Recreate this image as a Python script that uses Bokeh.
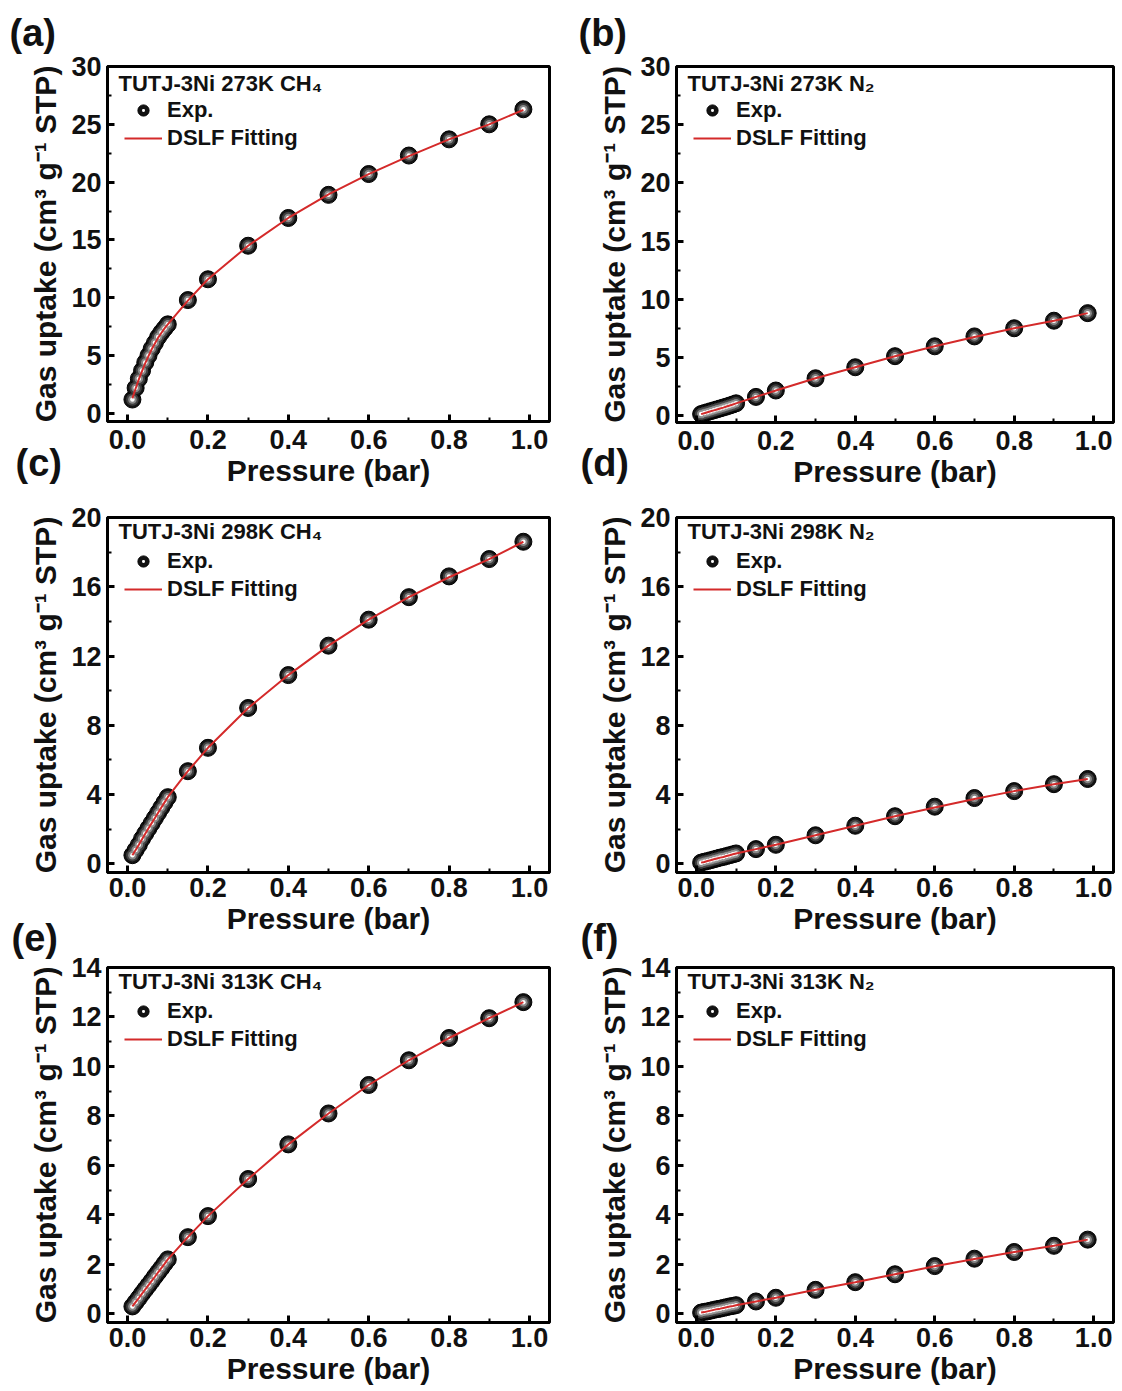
from bokeh.plotting import figure
from bokeh.layouts import column, row
from bokeh.models import FixedTicker, NumeralTickFormatter, Legend, LegendItem, Label, Title
from bokeh.embed import file_html
from bokeh.resources import INLINE

# Pressure points (bar): dense low-pressure region, then coarse steps up to ~1 bar
pressure_low = [0.012, 0.02, 0.028, 0.036, 0.044, 0.052, 0.06, 0.068, 0.076, 0.084, 0.092, 0.1]
pressure_high = [0.15, 0.2, 0.3, 0.4, 0.5, 0.6, 0.7, 0.8, 0.9, 0.985]
pressure = pressure_low + pressure_high

# Experimental uptake (cm3 g-1 STP)
ch4_273_exp = [1.2, 2.2, 3.0, 3.7, 4.4, 5.0, 5.6, 6.1, 6.6, 7.0, 7.35, 7.7,
               9.8, 11.6, 14.5, 16.9, 18.9, 20.7, 22.3, 23.7, 25.0, 26.3]
n2_273_exp = [0.12, 0.21, 0.29, 0.37, 0.45, 0.53, 0.61, 0.69, 0.77, 0.86, 0.95, 1.05,
              1.6, 2.15, 3.2, 4.15, 5.1, 5.95, 6.8, 7.5, 8.15, 8.8]
ch4_298_exp = [0.5, 0.8, 1.1, 1.45, 1.75, 2.05, 2.35, 2.65, 2.95, 3.25, 3.55, 3.85,
               5.35, 6.7, 9.0, 10.9, 12.6, 14.1, 15.4, 16.6, 17.6, 18.6]
n2_298_exp = [0.07, 0.12, 0.16, 0.21, 0.26, 0.31, 0.36, 0.40, 0.45, 0.50, 0.55, 0.60,
              0.85, 1.1, 1.65, 2.2, 2.75, 3.3, 3.8, 4.2, 4.6, 4.9]
ch4_313_exp = [0.3, 0.47, 0.64, 0.82, 0.99, 1.16, 1.33, 1.51, 1.68, 1.85, 2.03, 2.2,
               3.1, 3.95, 5.45, 6.85, 8.1, 9.25, 10.25, 11.15, 11.95, 12.6]
n2_313_exp = [0.05, 0.08, 0.1, 0.13, 0.16, 0.19, 0.21, 0.24, 0.27, 0.3, 0.32, 0.35,
              0.5, 0.65, 0.97, 1.28, 1.6, 1.93, 2.23, 2.5, 2.75, 3.0]

# DSLF fitted curves at the same pressures
ch4_273_fit = [1.3, 2.15, 2.95, 3.65, 4.35, 4.95, 5.55, 6.05, 6.55, 6.95, 7.35, 7.7,
               9.75, 11.6, 14.5, 16.9, 18.95, 20.7, 22.25, 23.7, 25.0, 26.25]
n2_273_fit = [0.12, 0.2, 0.28, 0.36, 0.44, 0.52, 0.6, 0.68, 0.77, 0.86, 0.95, 1.04,
              1.6, 2.15, 3.2, 4.15, 5.1, 5.95, 6.75, 7.5, 8.15, 8.8]
ch4_298_fit = [0.5, 0.8, 1.1, 1.42, 1.74, 2.05, 2.35, 2.65, 2.95, 3.25, 3.55, 3.85,
               5.35, 6.7, 9.0, 10.9, 12.6, 14.1, 15.4, 16.55, 17.6, 18.6]
n2_298_fit = [0.07, 0.11, 0.16, 0.21, 0.26, 0.31, 0.36, 0.40, 0.45, 0.50, 0.55, 0.60,
              0.85, 1.1, 1.65, 2.2, 2.75, 3.25, 3.75, 4.2, 4.6, 4.9]
ch4_313_fit = [0.3, 0.47, 0.64, 0.82, 0.99, 1.16, 1.33, 1.5, 1.68, 1.85, 2.02, 2.2,
               3.1, 3.95, 5.45, 6.85, 8.1, 9.25, 10.25, 11.15, 11.95, 12.6]
n2_313_fit = [0.05, 0.07, 0.1, 0.13, 0.16, 0.19, 0.21, 0.24, 0.27, 0.3, 0.32, 0.35,
              0.5, 0.65, 0.97, 1.28, 1.6, 1.92, 2.22, 2.5, 2.75, 3.0]

x_ticks = [0.0, 0.2, 0.4, 0.6, 0.8, 1.0]
x_minor = [0.1, 0.3, 0.5, 0.7, 0.9]
X_RANGE = (-0.05, 1.05)

panels = [
    dict(tag="(a)", title="TUTJ-3Ni 273K CH\u2084", exp=ch4_273_exp, fit=ch4_273_fit,
         y_ticks=[0, 5, 10, 15, 20, 25, 30], y_minor=[2.5, 7.5, 12.5, 17.5, 22.5, 27.5], y_start=-0.7),
    dict(tag="(b)", title="TUTJ-3Ni 273K N\u2082", exp=n2_273_exp, fit=n2_273_fit,
         y_ticks=[0, 5, 10, 15, 20, 25, 30], y_minor=[2.5, 7.5, 12.5, 17.5, 22.5, 27.5], y_start=-0.6),
    dict(tag="(c)", title="TUTJ-3Ni 298K CH\u2084", exp=ch4_298_exp, fit=ch4_298_fit,
         y_ticks=[0, 4, 8, 12, 16, 20], y_minor=[2, 6, 10, 14, 18], y_start=-0.5),
    dict(tag="(d)", title="TUTJ-3Ni 298K N\u2082", exp=n2_298_exp, fit=n2_298_fit,
         y_ticks=[0, 4, 8, 12, 16, 20], y_minor=[2, 6, 10, 14, 18], y_start=-0.5),
    dict(tag="(e)", title="TUTJ-3Ni 313K CH\u2084", exp=ch4_313_exp, fit=ch4_313_fit,
         y_ticks=[0, 2, 4, 6, 8, 10, 12, 14], y_minor=[1, 3, 5, 7, 9, 11, 13], y_start=-0.35),
    dict(tag="(f)", title="TUTJ-3Ni 313K N\u2082", exp=n2_313_exp, fit=n2_313_fit,
         y_ticks=[0, 2, 4, 6, 8, 10, 12, 14], y_minor=[1, 3, 5, 7, 9, 11, 13], y_start=-0.35),
]

FONT = "Liberation Sans"
RED = "#d42a2a"
INK = "#111111"

# Page geometry (pixels).  Each figure reserves a tall top border for its panel
# letter; rows are pulled up with negative margins so these borders overlap the
# row above (borders are transparent).
TOP = 130
frame_top = [66, 517, 967]                     # per row
frame_h = [(355, 356), (355, 355), (355, 355)]
bottom = [(69, 68), (68, 68), (69, 69)]
tag_gap = [(31, 31), (52, 52), (27, 27)]       # letter centre above frame top
tag_dx = [(-98, -98), (-92, -96), (-96, -96)]  # letter left edge vs frame left
item_off = [44, 44, 44]                        # first legend row below frame top
cap_off = [17, 14, 14]                         # caption centre below frame top
x_label_standoff = [8, 5, 5]
col_geom = [dict(left=107, frame_w=442, right=12), dict(left=115, frame_w=437, right=9)]
TAG_HALF = 18


def make_panel(i, cfg):
    r, c = divmod(i, 2)
    cg = col_geom[c]
    fw, fh = cg["frame_w"], frame_h[r][c]
    y0, y1 = cfg["y_start"], cfg["y_ticks"][-1]

    p = figure(frame_width=fw, frame_height=fh,
               x_range=X_RANGE, y_range=(y0, y1),
               output_backend="svg", toolbar_location=None,
               min_border_left=cg["left"], min_border_right=cg["right"],
               min_border_top=TOP, min_border_bottom=bottom[r][c])
    p.background_fill_color = "white"
    p.border_fill_color = None
    p.outline_line_color = "black"
    p.outline_line_width = 3
    p.xgrid.visible = False
    p.ygrid.visible = False

    p.xaxis.ticker = FixedTicker(ticks=x_ticks, minor_ticks=x_minor)
    p.yaxis.ticker = FixedTicker(ticks=cfg["y_ticks"], minor_ticks=cfg["y_minor"])
    p.xaxis.formatter = NumeralTickFormatter(format="0.0")
    for ax in (p.xaxis[0], p.yaxis[0]):
        ax.axis_line_width = 3
        ax.major_tick_in = 7
        ax.major_tick_out = 0
        ax.major_tick_line_width = 3
        ax.minor_tick_in = 4
        ax.minor_tick_out = 0
        ax.minor_tick_line_width = 2
        ax.major_label_text_font = FONT
        ax.major_label_text_font_size = "27px"
        ax.major_label_text_font_style = "bold"
        ax.major_label_text_color = INK
        ax.axis_label_text_font = FONT
        ax.axis_label_text_font_size = "30px"
        ax.axis_label_text_font_style = "bold"
        ax.axis_label_text_color = INK
    p.xaxis.axis_label = "Pressure (bar)"
    p.yaxis.axis_label = "Gas uptake (cm\u00b3 g\u207b\u00b9 STP)"
    p.xaxis.major_label_standoff = x_label_standoff[r]
    p.xaxis.axis_label_standoff = 2
    p.yaxis.major_label_standoff = 6
    p.yaxis.axis_label_standoff = 6

    # shaded spheres: dark body, two grey shading rings, bright spot
    body = p.scatter(pressure, cfg["exp"], size=17, fill_color="#121212", line_color="#000000", line_width=1)
    shade1 = p.scatter(pressure, cfg["exp"], marker="dot", size=50, line_color="#4a4a4a", line_alpha=0.8)
    shade2 = p.scatter(pressure, cfg["exp"], marker="dot", size=34, line_color="#9a9a9a", line_alpha=0.8)
    spot = p.scatter(pressure, cfg["exp"], marker="dot", size=18, line_color="#ffffff")
    fit = p.line(pressure, cfg["fit"], line_color=RED, line_width=2)

    # legend: two 28 px rows, its top edge 14 px above the first row's centre
    item_h = 28
    leg_top = item_off[r] - item_h // 2
    legend = Legend(items=[LegendItem(label="Exp.", renderers=[body, shade1, shade2, spot]),
                           LegendItem(label="DSLF Fitting", renderers=[fit])],
                    location=(17, fh - leg_top - 2 * item_h), margin=0, padding=0,
                    label_text_font=FONT, label_text_font_size="22px", label_text_font_style="bold",
                    label_text_color=INK,
                    glyph_width=38, glyph_height=item_h, label_height=item_h, label_standoff=5, spacing=0,
                    background_fill_alpha=0, border_line_alpha=0)
    p.add_layout(legend)

    # sample / condition caption above the legend entries
    cap_y = y0 + (fh - cap_off[r]) / fh * (y1 - y0)
    cap_x = X_RANGE[0] + 11 / fw * (X_RANGE[1] - X_RANGE[0])
    p.add_layout(Label(x=cap_x, y=cap_y, text=cfg["title"],
                       text_font=FONT, text_font_size="22px", text_font_style="bold",
                       text_baseline="middle", text_color=INK))

    # panel letter, left of the y-axis title
    gap = tag_gap[r][c]
    p.add_layout(Title(text=cfg["tag"], align="left", offset=tag_dx[r][c], vertical_align="bottom",
                       standoff=2 * (gap - TAG_HALF), text_font=FONT, text_font_size="38px",
                       text_font_style="bold", text_color=INK), "above")
    return p


figs = [make_panel(i, cfg) for i, cfg in enumerate(panels)]
rows = []
prev_end = 0
for r in range(3):
    canvas_top = frame_top[r] - TOP
    rows.append(row(figs[2 * r], figs[2 * r + 1], margin=(canvas_top - prev_end, 0, 0, 0)))
    prev_end = frame_top[r] + frame_h[r][0] + bottom[r][0]
layout = column(*rows)

open("out.html", "w").write(file_html(layout, INLINE))
